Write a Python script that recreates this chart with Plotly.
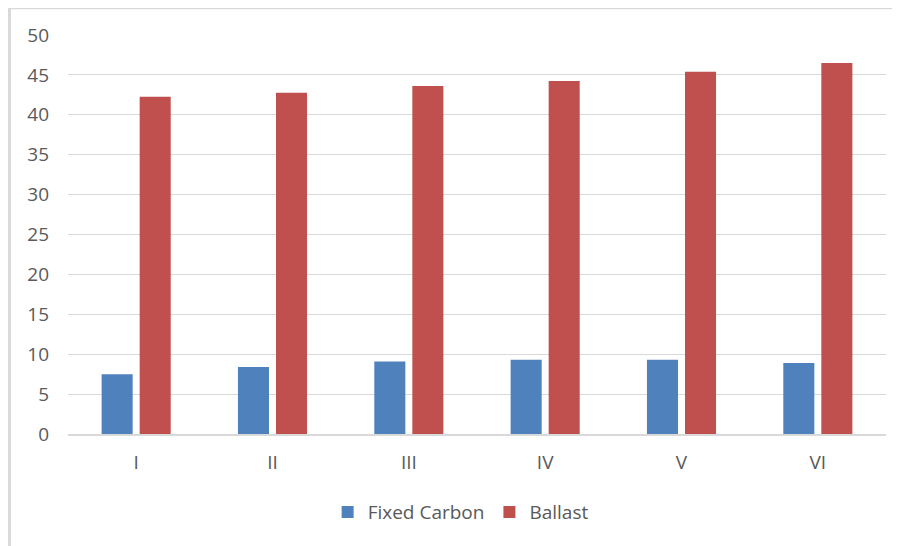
import plotly.graph_objects as go

categories = ["I", "II", "III", "IV", "V", "VI"]
fixed_carbon = [7.5, 8.4, 9.1, 9.3, 9.3, 8.9]
ballast = [42.25, 42.75, 43.6, 44.25, 45.4, 46.5]
y_ticks = [0, 5, 10, 15, 20, 25, 30, 35, 40, 45, 50]

fig = go.Figure()
fig.add_trace(go.Bar(x=categories, y=fixed_carbon, name="Fixed Carbon",
                     marker=dict(color="#4f81bd", line=dict(width=0))))
fig.add_trace(go.Bar(x=categories, y=ballast, name="Ballast",
                     marker=dict(color="#c0504d", line=dict(width=0))))

font = dict(family="Open Sans, Liberation Sans, sans-serif", size=19, color="#595959")

fig.update_layout(
    width=892, height=538,
    margin=dict(l=60, r=14, t=27, b=112),
    paper_bgcolor="white", plot_bgcolor="white",
    barmode="group", bargap=0.442, bargroupgap=0.184,
    font=font,
    showlegend=True,
    legend=dict(orientation="h", x=0.48, xanchor="center", y=-0.148, yanchor="top",
                font=dict(family=font["family"], size=19, color="#595959"),
                itemwidth=30, traceorder="normal"),
    xaxis=dict(showgrid=False, showline=True, linecolor="#d9d9d9", linewidth=2,
               ticks="", tickfont=font, ticklabelstandoff=10, fixedrange=True),
    yaxis=dict(range=[0, 50], tickvals=y_ticks, showgrid=True, gridcolor="#d9d9d9",
               gridwidth=1, zeroline=False, showline=False, ticks="",
               tickfont=font, ticklabelstandoff=18, fixedrange=True),
    shapes=[
        dict(type="line", xref="paper", yref="paper", x0=-0.0715, x1=1.05,
             y0=1.0665, y1=1.0665, line=dict(color="#d9d9d9", width=1.5)),
        dict(type="line", xref="paper", yref="paper", x0=-0.0715, x1=-0.0715,
             y0=1.0677, y1=-0.3, line=dict(color="#d9d9d9", width=3)),
    ],
)

fig.write_html("out.html")
